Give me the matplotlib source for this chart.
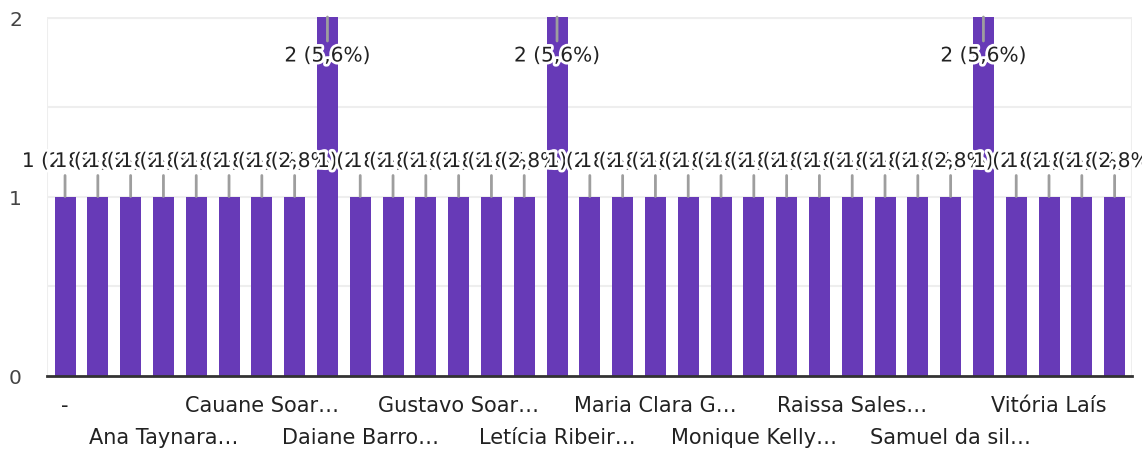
import matplotlib
matplotlib.use("Agg")
import matplotlib.pyplot as plt
import matplotlib.patheffects as pe

plt.rcParams['font.family'] = ['DejaVu Sans']

# 33 respostas (nomes), apenas alguns rótulos visíveis no eixo
names = ["-", "", "", "Ana Taynara…", "", "", "Cauane Soar…", "", "",
         "Daiane Barro…", "", "", "Gustavo Soar…", "", "", "Letícia Ribeir…",
         "", "", "Maria Clara G…", "", "", "Monique Kelly…", "", "",
         "Raissa Sales…", "", "", "Samuel da sil…", "", "", "Vitória Laís",
         "", ""]
counts = [1, 1, 1, 1, 1, 1, 1, 1, 2, 1, 1, 1, 1, 1, 1, 2, 1,
          1, 1, 1, 1, 1, 1, 1, 1, 1, 1, 1, 2, 1, 1, 1, 1]
total = 36
ymax = 2

purple = '#673ab7'
text_col = '#222222'

fig = plt.figure(figsize=(11.42, 4.52), dpi=100)
ax = fig.add_axes([47 / 1142, 75 / 452, (1132 - 47) / 1142, (377 - 18) / 452])

x = list(range(len(counts)))
ax.bar(x, counts, width=0.64, color=purple, zorder=2)

ax.set_xlim(-0.55, len(counts) - 0.47)
ax.set_ylim(0, ymax)

# grid
for g in [0.5, 1, 1.5]:
    ax.axhline(g, color='#eeeeee', lw=1.5, zorder=0)
ax.axhline(ymax, color='#eeeeee', lw=3, zorder=0)
for s in ['top', 'left', 'right']:
    ax.spines[s].set_visible(False)
ax.axvline(-0.55, color='#eeeeee', lw=1.5, zorder=0)
ax.axvline(len(counts) - 0.47, color='#eeeeee', lw=1.5, zorder=0)
ax.spines['bottom'].set_color('#333333')
ax.spines['bottom'].set_linewidth(2)
ax.spines['bottom'].set_zorder(3)

ax.set_yticks([0, 1, 2])
ax.tick_params(axis='y', length=0, pad=18, labelsize=14.5, labelcolor='#444444')
ax.set_xticks([])

# x labels in two rows
for i, n in enumerate(names):
    if not n:
        continue
    row = (i // 3) % 2
    ax.annotate(n, xy=(i, 0), xycoords='data', xytext=(0, -29 - row * 32),
                textcoords='offset pixels', ha='center', va='center',
                fontsize=15, color=text_col)

# data labels with leader lines
halo = [pe.withStroke(linewidth=4, foreground='white')]
for i, c in enumerate(counts):
    pct = f"{c / total * 100:.1f}".replace('.', ',')
    label = f"{c} ({pct}%)"
    if c >= ymax:
        line_off, txt_off = -24, -39
    else:
        line_off, txt_off = 21, 35
    ax.annotate('', xy=(i, c), xytext=(0, line_off), textcoords='offset pixels',
                arrowprops=dict(arrowstyle='-', color='#9e9e9e', lw=2,
                                shrinkA=0, shrinkB=0), zorder=4)
    ax.annotate(label, xy=(i, c), xytext=(0, txt_off), textcoords='offset pixels',
                ha='center', va='center', fontsize=14.5, color=text_col,
                path_effects=halo, zorder=5, annotation_clip=False)

fig.savefig('out.png', dpi=100)
